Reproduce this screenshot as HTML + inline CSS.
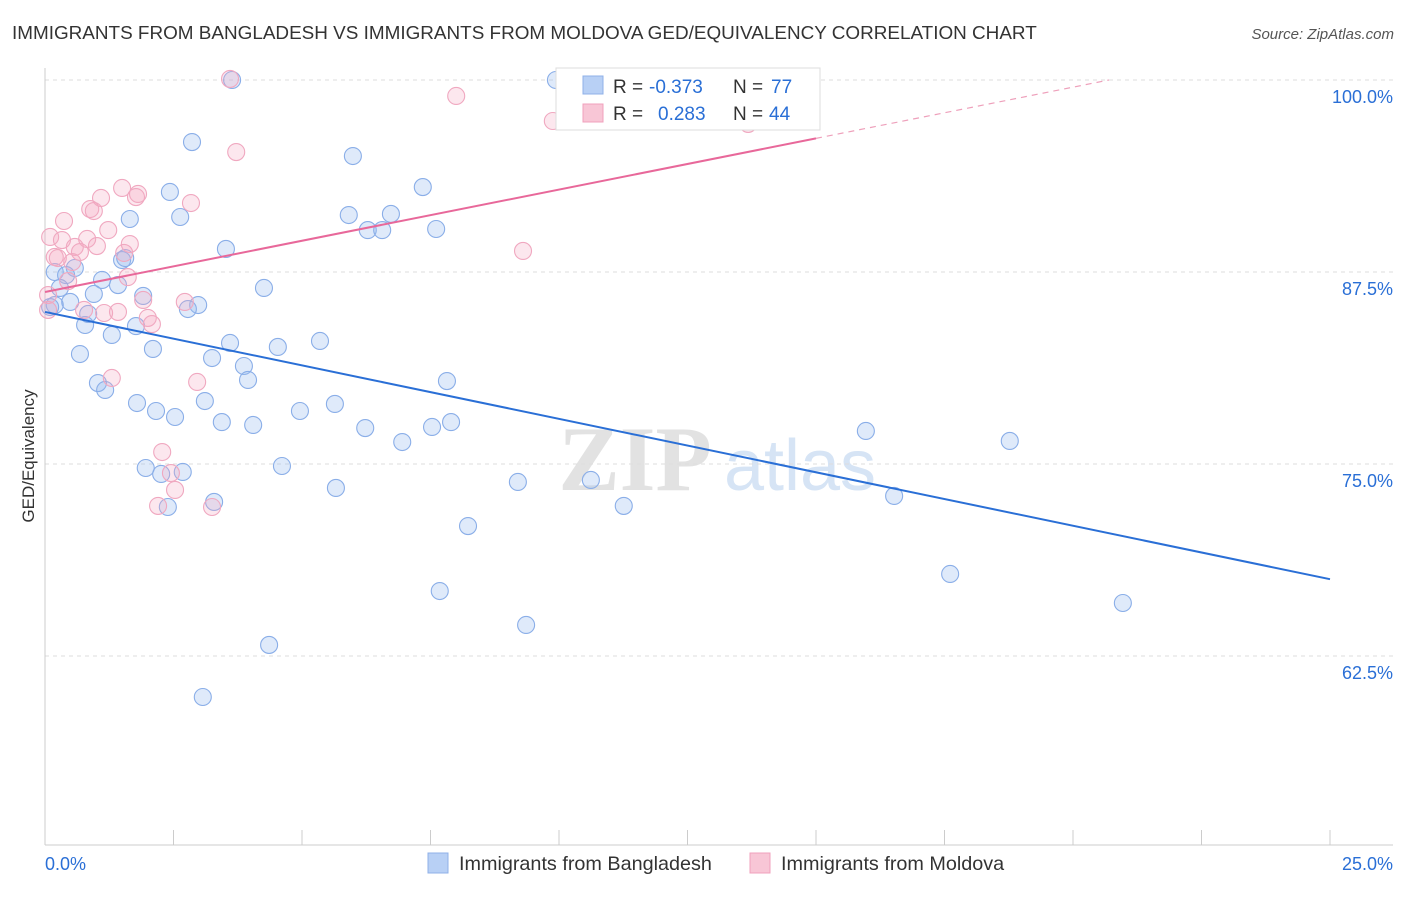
<!DOCTYPE html>
<html><head><meta charset="utf-8"><style>
body{margin:0;background:#fff;font-family:"Liberation Sans",sans-serif;}
</style></head><body>
<svg id="chart" width="1406" height="892" xmlns="http://www.w3.org/2000/svg" font-family="Liberation Sans, sans-serif">
<text x="12" y="39" font-size="18.9" fill="#333">IMMIGRANTS FROM BANGLADESH VS IMMIGRANTS FROM MOLDOVA GED/EQUIVALENCY CORRELATION CHART</text>
<text x="1394" y="39" font-size="15" fill="#555" text-anchor="end" font-style="italic">Source: ZipAtlas.com</text>
<text transform="translate(34,456) rotate(-90)" font-size="17" fill="#333" text-anchor="middle">GED/Equivalency</text>
<g>
<text x="635" y="490" font-size="92" fill="#e2e2e2" text-anchor="middle" font-family="Liberation Serif, serif" font-weight="bold">ZIP</text>
<text x="800" y="490" font-size="72" fill="#d6e4f5" text-anchor="middle">atlas</text>
</g>
<g id="grid"></g><g id="axes"></g><g id="pts"></g><g id="lines"></g>
<g>
<rect x="556" y="68" width="264" height="62" fill="#fff" stroke="#ddd"/>
<rect x="583" y="76" width="20" height="18" fill="#b8d0f5" stroke="#8fb0e8"/>
<rect x="583" y="104" width="20" height="18" fill="#f8c6d6" stroke="#f0a0bc"/>
<text x="613" y="93" font-size="19" fill="#333">R =</text>
<text x="649" y="93" font-size="19" fill="#2a6fd6">-0.373</text>
<text x="733" y="93" font-size="19" fill="#333">N =</text>
<text x="771" y="93" font-size="19" fill="#2a6fd6">77</text>
<text x="613" y="120" font-size="19" fill="#333">R =</text>
<text x="658" y="120" font-size="19" fill="#2a6fd6">0.283</text>
<text x="733" y="120" font-size="19" fill="#333">N =</text>
<text x="769" y="120" font-size="19" fill="#2a6fd6">44</text>
</g>
<g>
<rect x="428" y="853" width="20" height="20" fill="#b8d0f5" stroke="#8fb0e8"/>
<text x="459" y="870" font-size="19.8" fill="#333">Immigrants from Bangladesh</text>
<rect x="750" y="853" width="20" height="20" fill="#f8c6d6" stroke="#f0a0bc"/>
<text x="781" y="870" font-size="19.8" fill="#333">Immigrants from Moldova</text>
</g>
<text x="45" y="870" font-size="18" fill="#2a6fd6">0.0%</text>
<text x="1393" y="870" font-size="18" fill="#2a6fd6" text-anchor="end">25.0%</text>
</svg>
<script>
const yTicks=[100,87.5,75,62.5];
const yTickLabels=["100.0%","87.5%","75.0%","62.5%"];
const xTicks=[0,2.5,5,7.5,10,12.5,15,17.5,20,22.5,25];
const blueX=[9.94,3.64,2.86,5.99,2.43,7.35,2.63,1.65,5.91,6.73,6.28,6.56,7.61,3.52,1.50,1.56,0.58,0.19,0.41,1.11,1.42,4.26,0.29,0.95,1.91,0.49,2.98,2.78,0.19,0.10,0.84,0.78,1.77,1.30,3.60,5.35,4.53,2.10,0.68,3.25,3.87,3.95,1.03,1.17,7.82,3.11,1.79,5.64,2.16,4.96,2.53,3.44,4.05,6.23,7.53,7.90,6.95,15.97,18.77,1.96,2.68,2.26,4.61,9.20,10.62,5.66,3.29,2.39,11.26,16.52,8.23,17.61,7.68,20.97,9.36,4.36,3.07];
const blueY=[100.0,100.0,95.96,95.05,92.71,93.03,91.08,90.95,91.21,91.28,90.23,90.23,90.30,89.00,88.28,88.41,87.76,87.50,87.30,86.98,86.65,86.46,86.46,86.07,85.94,85.55,85.35,85.09,85.35,85.22,84.77,84.05,83.98,83.40,82.88,83.01,82.62,82.49,82.16,81.90,81.38,80.47,80.27,79.82,80.40,79.10,78.97,78.91,78.45,78.45,78.06,77.73,77.54,77.34,77.41,77.73,76.43,77.15,76.50,74.74,74.48,74.35,74.87,73.83,73.96,73.44,72.53,72.20,72.27,72.92,70.96,67.84,66.73,65.95,64.52,63.22,59.83];
const pinkX=[3.60,8.00,9.88,13.68,3.72,1.50,1.81,1.09,1.77,0.88,2.84,0.37,0.95,0.10,1.23,0.33,0.82,1.65,0.58,1.01,0.68,9.30,0.19,1.54,0.53,0.45,1.61,0.06,1.91,2.72,0.76,1.15,1.42,2.00,2.08,1.30,2.96,2.28,2.45,2.53,2.20,3.25,0.06,0.25];
const pinkY=[100.07,98.96,97.33,97.14,95.31,92.97,92.58,92.32,92.38,91.60,91.99,90.82,91.47,89.78,90.23,89.58,89.65,89.32,89.13,89.19,88.80,88.87,88.48,88.74,88.15,86.91,87.17,86.00,85.68,85.55,85.03,84.83,84.90,84.51,84.11,80.60,80.34,75.78,74.41,73.31,72.27,72.20,85.03,88.41];
const blueTrend=[[0,84.9],[25,67.5]];
const pinkTrend=[[0,86.2],[15,96.2]];
const pinkTrendExt=[[15,96.2],[20.7,100]];
const NS="http://www.w3.org/2000/svg";
const X=v=>45+v/25*1285, Y=v=>80+(100-v)/12.5*192;
function mk(tag,attrs,parent){const e=document.createElementNS(NS,tag);for(const k in attrs)e.setAttribute(k,attrs[k]);document.getElementById(parent).appendChild(e);return e;}
yTicks.forEach((t,i)=>{
 const l=mk('line',{x1:45,x2:1393,y1:Y(t),y2:Y(t),stroke:'#ddd','stroke-dasharray':'4,4'},'grid');
 
 
 const tx=mk('text',{x:1393,y:Y(t)+23,'font-size':18,fill:'#2a6fd6','text-anchor':'end'},'grid');
 tx.textContent=yTickLabels[i];
 
 
});
const ax=mk('line',{x1:45,x2:45,y1:68,y2:845,stroke:'#ccc'},'axes');


const bx=mk('line',{x1:45,x2:1393,y1:845,y2:845,stroke:'#ccc'},'axes');


xTicks.forEach(t=>{
 const l=mk('line',{x1:X(t),x2:X(t),y1:830,y2:845,stroke:'#ccc'},'axes');
 
 
});
blueX.forEach((v,i)=>{
 const c=mk('circle',{cx:X(v),cy:Y(blueY[i]),r:8.5,fill:'rgba(150,185,240,0.3)',stroke:'#8aaee8','stroke-width':1.1},'pts');
 
 
});
pinkX.forEach((v,i)=>{
 const c=mk('circle',{cx:X(v),cy:Y(pinkY[i]),r:8.5,fill:'rgba(245,170,195,0.28)',stroke:'#f0a8c0','stroke-width':1.1},'pts');
 
 
});
const b=mk('line',{x1:X(blueTrend[0][0]),y1:Y(blueTrend[0][1]),x2:X(blueTrend[1][0]),y2:Y(blueTrend[1][1]),stroke:'#2a6fd6','stroke-width':2},'lines');


const p=mk('line',{x1:X(pinkTrend[0][0]),y1:Y(pinkTrend[0][1]),x2:X(pinkTrend[1][0]),y2:Y(pinkTrend[1][1]),stroke:'#e8689a','stroke-width':2},'lines');


const pd=mk('line',{x1:X(pinkTrendExt[0][0]),y1:Y(pinkTrendExt[0][1]),x2:X(pinkTrendExt[1][0]),y2:Y(pinkTrendExt[1][1]),stroke:'#eea0bb','stroke-width':1.2,'stroke-dasharray':'6,5'},'lines');


</script>
</body></html>
